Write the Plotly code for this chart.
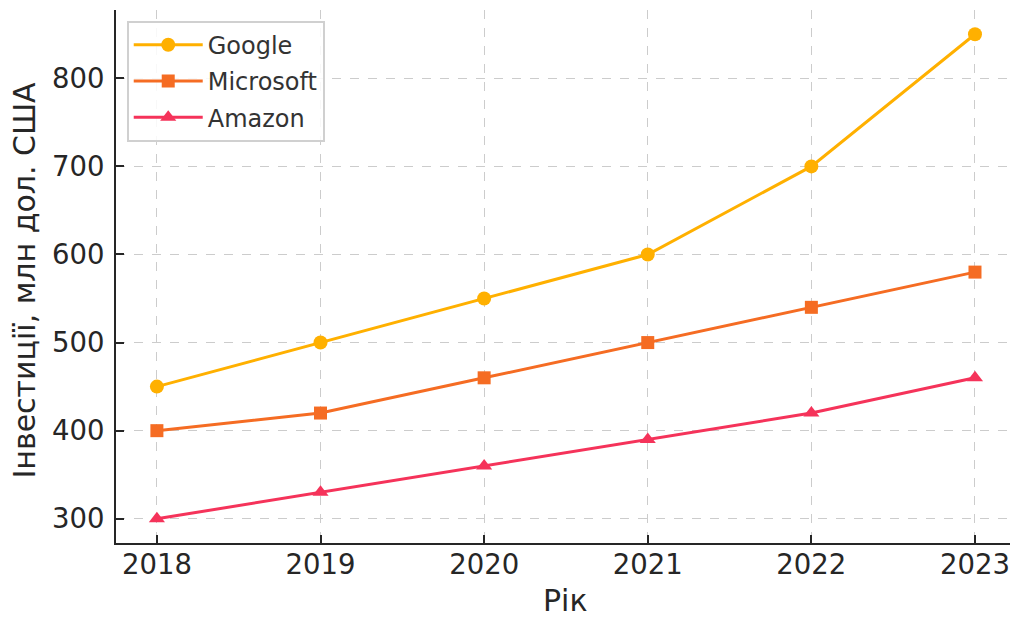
import plotly.graph_objects as go

years = [2018, 2019, 2020, 2021, 2022, 2023]
google = [450, 500, 550, 600, 700, 850]
microsoft = [400, 420, 460, 500, 540, 580]
amazon = [300, 330, 360, 390, 420, 460]

x_title = "Рік"
y_title = "Інвестиції, млн дол. США"

series = [
    ("Google", google, "#FFB000", "circle", 14),
    ("Microsoft", microsoft, "#F56C23", "square", 13),
    ("Amazon", amazon, "#F5335A", "triangle-up", 14),
]

fig = go.Figure()
for name, vals, color, sym, ms in series:
    fig.add_trace(go.Scatter(
        x=years, y=vals, name=name, mode="lines+markers", legendgroup=name,
        line=dict(color=color, width=3),
        marker=dict(symbol=sym, size=ms, color=color),
    ))

axis_common = dict(
    showline=True, linecolor="#262626", linewidth=2,
    ticks="inside", ticklen=8, tickwidth=2, tickcolor="#262626",
    showgrid=True, gridcolor="#cccccc", gridwidth=1.2, griddash="dash",
    zeroline=False, ticklabeloverflow="allow",
    tickfont=dict(family="DejaVu Sans", size=27.5, color="#262626"),
)

fig.update_xaxes(range=[2017.75, 2023.214], tickvals=years,
                 ticklabelstandoff=-4, **axis_common)
fig.update_yaxes(range=[272.5, 877.5], tickvals=[300, 400, 500, 600, 700, 800],
                 ticklabelstandoff=4, **axis_common)

title_font = dict(family="DejaVu Sans", size=30, color="#262626")
fig.add_annotation(text=x_title, xref="paper", yref="paper",
                   x=0.5028, y=-0.107, xanchor="center", yanchor="middle",
                   showarrow=False, font=title_font)
fig.add_annotation(text=y_title, xref="paper", yref="paper",
                   x=-0.1029, y=0.4925, xanchor="center", yanchor="middle",
                   textangle=-90, showarrow=False, font=title_font)

fig.update_layout(
    width=1010, height=617,
    margin=dict(l=116, r=0, t=10, b=74),
    plot_bgcolor="white", paper_bgcolor="white",
    showlegend=True,
    legend=dict(
        x=0.012, y=0.98, xanchor="left", yanchor="top",
        bgcolor="rgba(255,255,255,0.85)", bordercolor="#d0d0d0", borderwidth=2,
        font=dict(family="DejaVu Sans", size=24, color="#333333"),
        itemwidth=69, tracegroupgap=2,
    ),
)

fig.write_html("out.html")
